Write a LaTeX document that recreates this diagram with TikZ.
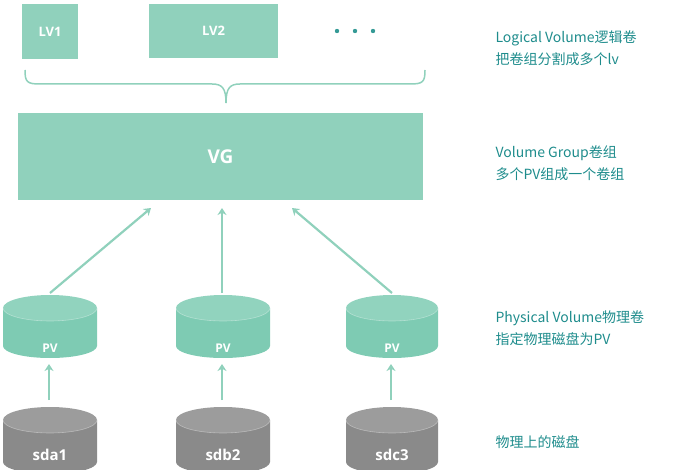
\documentclass[tikz,border=0pt]{standalone}
\usepackage{fontspec}
\setmainfont{Open Sans}
\newfontfamily\cjk{Noto Sans CJK SC}
\definecolor{gr}{HTML}{90D1BC}
\definecolor{pvc}{HTML}{7ECBB3}
\definecolor{dk}{HTML}{8A8A8A}
\definecolor{tc}{HTML}{1E8C8C}
\newcommand\mycyl[5]{% x1,x2,ytopcenter,ybottom,color
  \fill[#5] (#1,#3) -- (#1,#4-12) arc[start angle=180,end angle=0,x radius={(#2-#1)/2},y radius=12] -- (#2,#3) -- cycle;
  \fill[#5!85!white] ({(#1+#2)/2},#3) ellipse[x radius={(#2-#1)/2},y radius=13];
  \draw[white,opacity=.35,line width=.6] (#1,#3) arc[start angle=180,end angle=0,x radius={(#2-#1)/2},y radius=13];}
\begin{document}
\begin{tikzpicture}[x=1pt,y=-1pt,
  box/.style={fill=gr,draw=none,inner sep=0,text=white,font=\bfseries},
  lbl/.style={text=white},
  arr/.style={draw=gr,line width=2.2,-{Stealth[length=7,width=9]}},
  note/.style={text=tc,anchor=west,align=left,font=\cjk\fontsize{14}{22}\selectfont}]
\usetikzlibrary{arrows.meta}
\useasboundingbox (0,0) rectangle (700,470);
\node[box,minimum width=56,minimum height=55] (lv1) at (50,31.5) {\fontsize{13}{15}\selectfont LV1};
\node[box,minimum width=129,minimum height=54] (lv2) at (213.5,31) {\fontsize{13}{15}\selectfont LV2};
\foreach \x in {337,355,373} \fill[tc!80!gr] (\x,31) circle (2.2);
\draw[gr,line width=1.5] (25,70) .. controls (25,82) and (27,84) .. (40,84) -- (212,84) .. controls (222,84) and (226,88) .. (226,103);
\draw[gr,line width=1.5] (425,70) .. controls (425,82) and (423,84) .. (410,84) -- (240,84) .. controls (230,84) and (226,88) .. (226,103);
\node[box,minimum width=405,minimum height=87] (vg) at (220.5,156.5) {\fontsize{19}{22}\selectfont VG};
\mycyl{3}{97}{308}{358}{pvc}
\mycyl{176}{270}{308}{358}{pvc}
\mycyl{346}{438}{308}{358}{pvc}
\node[lbl,font=\bfseries\fontsize{12}{14}\selectfont] (pv1) at (50,348) {PV};
\node[lbl,font=\bfseries\fontsize{12}{14}\selectfont] (pv2) at (223,348) {PV};
\node[lbl,font=\bfseries\fontsize{12}{14}\selectfont] (pv3) at (392,348) {PV};
\mycyl{3}{97}{420}{474}{dk}
\mycyl{176}{270}{420}{474}{dk}
\mycyl{346}{438}{420}{474}{dk}
\node[lbl,font=\bfseries\fontsize{15}{17}\selectfont] (sda) at (50,455) {sda1};
\node[lbl,font=\bfseries\fontsize{15}{17}\selectfont] (sdb) at (223,455) {sdb2};
\node[lbl,font=\bfseries\fontsize{15}{17}\selectfont] (sdc) at (392,455) {sdc3};
\coordinate (a1) at (49,400); \coordinate (b1) at (49,364);
\coordinate (a2) at (222,400); \coordinate (b2) at (222,364);
\coordinate (a3) at (391,400); \coordinate (b3) at (391,364);
\draw[arr] (a1) -- (b1); \draw[arr] (a2) -- (b2); \draw[arr] (a3) -- (b3);
\coordinate (c1) at (50,293); \coordinate (d1) at (151,208);
\coordinate (c2) at (222,293); \coordinate (d2) at (222,208);
\coordinate (c3) at (392,293); \coordinate (d3) at (292,208);
\draw[arr] (c1) -- (d1); \draw[arr] (c2) -- (d2); \draw[arr] (c3) -- (d3);
\node[note] (n1) at (492,48) {Logical Volume逻辑卷\\把卷组分割成多个lv};
\node[note] (n2) at (492,163) {Volume Group卷组\\多个PV组成一个卷组};
\node[note] (n3) at (492,328) {Physical Volume物理卷\\指定物理磁盘为PV};
\node[note] (n4) at (492,442) {物理上的磁盘};
\end{tikzpicture}
\end{document}
